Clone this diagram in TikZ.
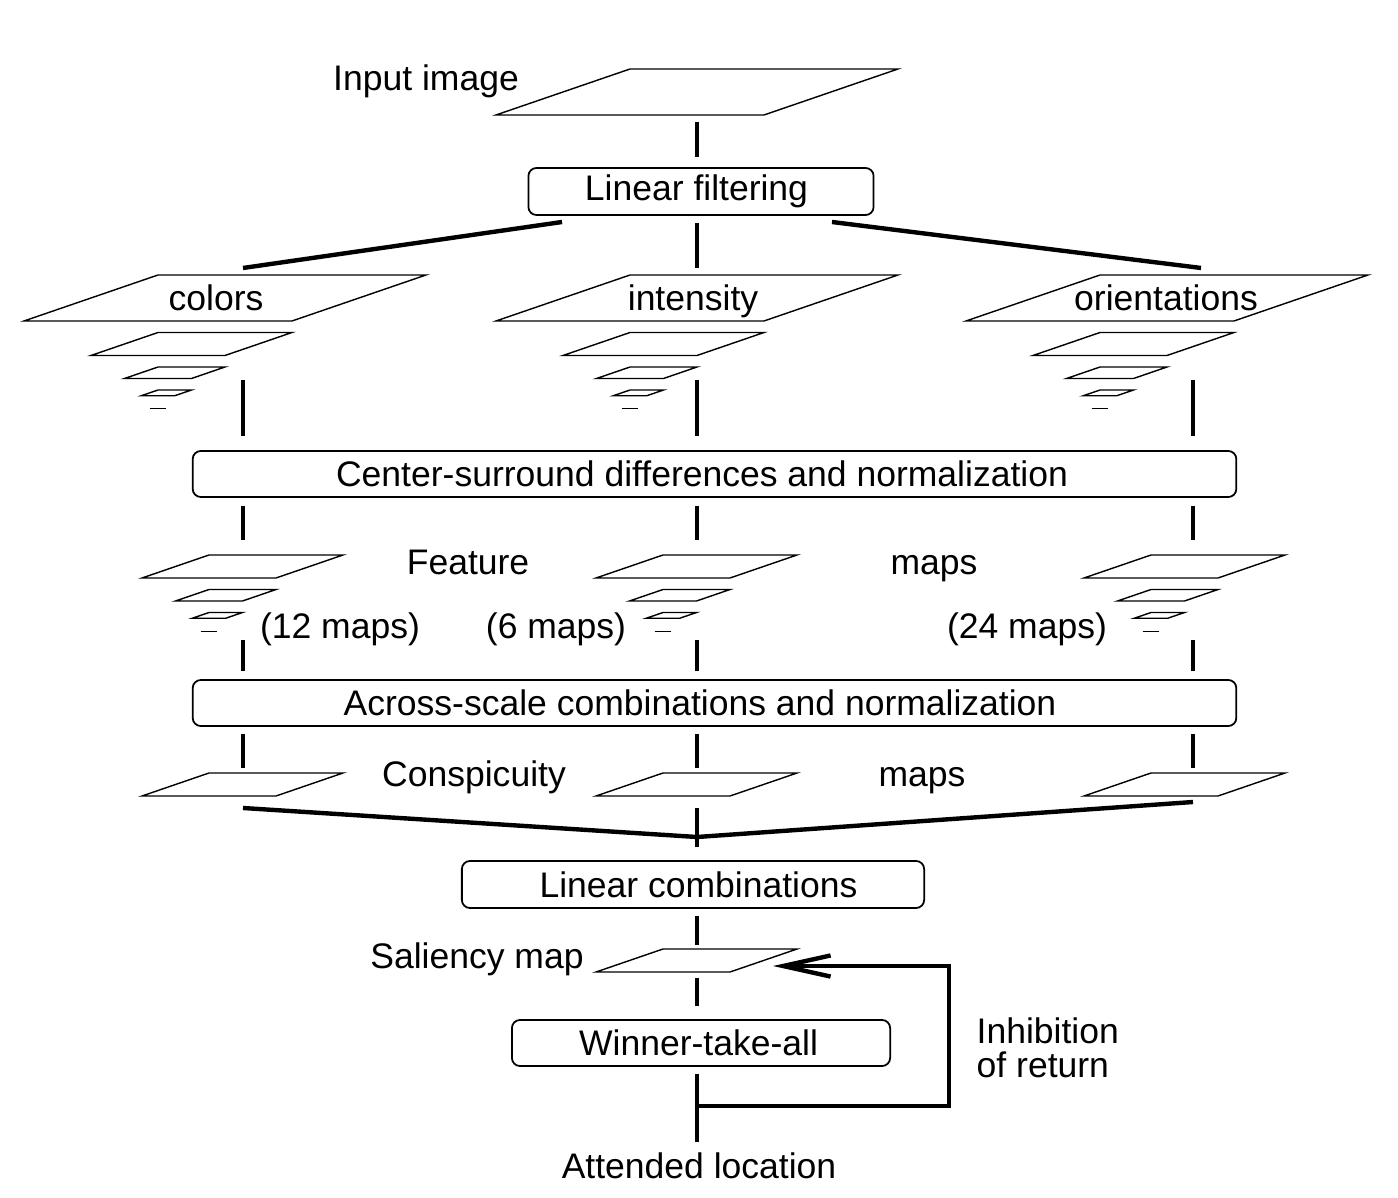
\documentclass[tikz,border=0pt]{standalone}
\usepackage{fontspec}
\setmainfont{Liberation Sans}
\usetikzlibrary{arrows.meta}

\tikzset{
  plane/.style={draw, line width=0.4pt},
  box/.style={draw, line width=0.5pt, rounded corners=2.3pt, inner sep=0pt},
  boxtext/.style={label={[inner sep=0pt, xshift=#1]center:}},
  link/.style={line width=1.25pt},
  lbl/.style={anchor=base, inner sep=0pt},
}
% top-left corner x, y and width of one map
\newcommand{\mapplane}[3]{\draw[plane] (#1,#2) -- ++(#3,0) -- ++(-#3/2,0.1716*#3) -- ++(-#3,0) -- cycle;}
% the same, shrinking by two at each level, the last one only a dash
\newcommand{\mappyramid}[4]{%
  \foreach \k in {0,...,#4}{
    \pgfmathsetmacro{\pw}{#3/2^\k}
    \pgfmathsetmacro{\py}{#2+0.3433*#3*(1-1/2^\k)+11.5*\k}
    \ifnum\k=#4
      \draw[plane] (#1-\pw/2,\py+1.5) -- ++(\pw,0);
    \else
      \mapplane{#1}{\py}{\pw}
    \fi
  }}

\begin{document}
\begin{tikzpicture}[x={(0.01cm,0)}, y={(0,-0.01cm)}, font=\fontsize{10.1}{12}\selectfont, line join=miter]
  \useasboundingbox (0,0) rectangle (1398,1198);

  \mapplane{630}{69}{268}
  \node[lbl] at (426,91) {Input image};

  \node[box, minimum width=3.45cm, minimum height=0.47cm,
        label={[inner sep=0pt, xshift=-0.045cm]center:Linear filtering}] (filt) at (701,191.5) {};

  \mappyramid{158}{275}{268}{4}
  \mappyramid{630}{275}{268}{4}
  \mappyramid{1100}{275}{268}{4}
  \node[lbl] at (216,311) {colors};
  \node[lbl] at (693,311) {intensity};
  \node[lbl] at (1166,311) {orientations};

  \node[box, minimum width=10.43cm, minimum height=0.46cm,
        label={[inner sep=0pt, xshift=-0.125cm]center:Center-surround differences and normalization}] (csd) at (714.5,474) {};

  \mappyramid{209}{555}{134}{3}
  \mappyramid{663}{555}{134}{3}
  \mappyramid{1151}{555}{134}{3}
  \node[lbl] at (468,575) {Feature};
  \node[lbl] at (934,575) {maps};
  \node[lbl] at (340,639) {(12 maps)};
  \node[lbl] at (556,639) {(6 maps)};
  \node[lbl] at (1027,639) {(24 maps)};

  \node[box, minimum width=10.43cm, minimum height=0.46cm,
        label={[inner sep=0pt, xshift=-0.145cm]center:Across-scale combinations and normalization}] (asc) at (714.5,703) {};

  \mapplane{209}{773}{134}
  \mapplane{663}{773}{134}
  \mapplane{1151}{773}{134}
  \node[lbl] at (474,786) {Conspicuity};
  \node[lbl] at (922,786) {maps};

  \node[box, minimum width=4.62cm, minimum height=0.47cm,
        label={[inner sep=0pt, xshift=0.055cm]center:Linear combinations}] (lc) at (693,884.5) {};

  \mapplane{663}{949}{134}
  \node[lbl] at (477,968) {Saliency map};

  \node[box, minimum width=3.78cm, minimum height=0.46cm,
        label={[inner sep=0pt, xshift=-0.025cm]center:Winner-take-all}] (wta) at (701,1043) {};

  \node[anchor=west, inner sep=0pt, align=left, font=\fontsize{10.1}{9.7}\selectfont] (inh) at (976,1048) {Inhibition\\of return};
  \node[lbl] (attn) at (699,1178) {Attended location};

  \coordinate (img) at (697,115);
  \coordinate (fL) at (562,222);
  \coordinate (fR) at (832,222);
  \coordinate (topA) at (243,268);
  \coordinate (topB) at (697,268);
  \coordinate (topC) at (1201,268);
  \coordinate (pyrA) at (243,380);
  \coordinate (pyrB) at (697,380);
  \coordinate (pyrC) at (1193,380);
  \coordinate (feaA) at (243,540);
  \coordinate (feaB) at (697,540);
  \coordinate (feaC) at (1193,540);
  \coordinate (febA) at (243,640);
  \coordinate (febB) at (697,640);
  \coordinate (febC) at (1193,640);
  \coordinate (conA) at (243,768);
  \coordinate (conB) at (697,768);
  \coordinate (conC) at (1193,768);
  \coordinate (cbA) at (243,808);
  \coordinate (cbB) at (697,808);
  \coordinate (cbC) at (1193,802);
  \coordinate (join) at (697,837);
  \coordinate (sal) at (697,945);
  \coordinate (salb) at (697,972);
  \coordinate (salR) at (773,966);
  \coordinate (att) at (697,1142);
  \coordinate (ior) at (697,1106);
  \coordinate (iorT) at (949,966);

  \draw[link, shorten <=2pt, shorten >=3pt] (img) -- (filt.north -| img);
  \draw[link] (fL) -- (topA);
  \draw[link] (fR) -- (topC);
  \draw[link, shorten <=2pt] (filt.south -| img) -- (topB);
  \foreach \c in {A,B,C}{
    \draw[link, shorten >=4pt] (pyr\c) -- (csd.north -| pyr\c);
    \draw[link, shorten <=2.3pt] (csd.south -| pyr\c) -- (fea\c);
    \draw[link, shorten >=2.3pt] (feb\c) -- (asc.north -| feb\c);
    \draw[link, shorten <=2pt] (asc.south -| pyr\c) -- (con\c);
  }
  \draw[link] (cbA) -- (join) -- (cbC);
  \draw[link, shorten >=3.7pt] (cbB) -- (lc.north -| cbB);
  \draw[link, shorten <=2pt] (lc.south -| cbB) -- (sal);
  \draw[link, shorten <=1.7pt, shorten >=3.7pt] (salb) -- (wta.north -| salb);
  \draw[link, shorten <=2pt] (wta.south -| salb) -- (att);
  \draw[link, -{Straight Barb[length=13.5pt,width=6pt]}] (ior) -| (iorT) -- (salR);
\end{tikzpicture}
\end{document}
